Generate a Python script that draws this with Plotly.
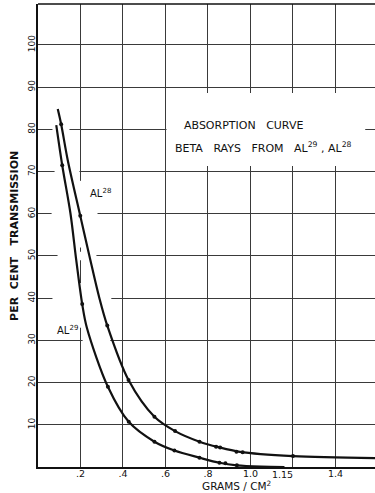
import plotly.graph_objects as go

# ---- data ----
# AL28 (upper) curve: drawn curve vertices and measured points
al28_curve_x = [0.093, 0.109, 0.14, 0.199, 0.242, 0.289, 0.326, 0.426, 0.548, 0.645, 0.76, 0.85, 0.95, 1.2, 1.586]
al28_curve_y = [84.8, 81.2, 72.7, 59.5, 50.0, 40.0, 33.5, 20.6, 11.9, 8.5, 6.0, 4.7, 3.6, 2.6, 2.1]
al28_pts_x = [0.109, 0.199, 0.326, 0.426, 0.548, 0.645, 0.76, 0.838, 0.857, 0.934, 0.963, 1.2]
al28_pts_y = [81.2, 59.5, 33.5, 20.6, 11.9, 8.5, 6.0, 4.8, 4.6, 3.6, 3.5, 2.6]

# AL29 (lower) curve
al29_curve_x = [0.086, 0.114, 0.153, 0.18, 0.208, 0.23, 0.329, 0.427, 0.548, 0.642, 0.76, 0.854, 0.936, 1.05, 1.16]
al29_curve_y = [81.0, 71.5, 60.0, 49.0, 38.6, 33.0, 19.0, 10.7, 6.0, 3.9, 2.2, 1.0, 0.4, 0.1, 0.0]
al29_pts_x = [0.114, 0.208, 0.329, 0.427, 0.548, 0.642, 0.76, 0.854, 0.882, 0.936]
al29_pts_y = [71.5, 38.6, 19.0, 10.7, 6.0, 3.9, 2.2, 1.0, 0.9, 0.4]

x_grid = [0.2, 0.4, 0.6, 0.8, 1.0, 1.2, 1.4]
x_ticktext = [".2", ".4", ".6", ".8", "1.0", "", "1.4"]
y_ticks = [10, 20, 30, 40, 50, 60, 70, 80, 90, 100]
y_ticktext = [str(v) for v in y_ticks]

FONT = "DejaVu Sans"
INK = "#111111"
GRID = "#3a3a3a"

fig = go.Figure()
for cx, cy, px, py in [(al28_curve_x, al28_curve_y, al28_pts_x, al28_pts_y),
                       (al29_curve_x, al29_curve_y, al29_pts_x, al29_pts_y)]:
    fig.add_trace(go.Scatter(x=cx, y=cy, mode="lines",
                             line=dict(color=INK, width=2.2, shape="spline", smoothing=0.9),
                             hoverinfo="skip", showlegend=False))
    fig.add_trace(go.Scatter(x=px, y=py, mode="markers",
                             marker=dict(color=INK, size=4),
                             showlegend=False))

# white boxes that reproduce the breaks in the hand-drawn grid
gaps = [
    (0.605, 1.54, 71.3, 88.6),   # title area
    (0.068, 0.148, 79, 81),
    (0.078, 0.195, 69, 71),
    (0.064, 0.28, 59, 61),
    (0.092, 0.275, 49, 51),
    (0.068, 0.345, 39, 41),
    (0.21, 0.34, 29, 31),
    (0.19, 0.21, 52, 67.8),
    (0.19, 0.21, 33, 43.6),
]
shapes = [dict(type="rect", xref="x", yref="y", x0=a, x1=b, y0=c, y1=d,
               fillcolor="white", line=dict(width=0), layer="between") for a, b, c, d in gaps]
shapes.append(dict(type="line", xref="paper", yref="paper", x0=0, x1=1, y0=1, y1=1,
                   line=dict(color=INK, width=1.5)))

ann_font = dict(family=FONT, size=11, color=INK)
annotations = [
    dict(x=0.967, y=81, xref="x", yref="y", showarrow=False,
         text="ABSORPTION\u00a0\u00a0 CURVE", font=ann_font),
    dict(x=1.06, y=75.6, xref="x", yref="y", showarrow=False,
         text="BETA\u00a0\u00a0 RAYS\u00a0\u00a0 FROM\u00a0\u00a0 AL<sup>29</sup> , AL<sup>28</sup>", font=ann_font),
    dict(x=0.294, y=65, xref="x", yref="y", showarrow=False,
         text="AL<sup>28</sup>", font=dict(family=FONT, size=10, color=INK)),
    dict(x=0.141, y=32.5, xref="x", yref="y", showarrow=False,
         text="AL<sup>29</sup>", font=dict(family=FONT, size=10, color=INK)),
    dict(x=1.15, y=-0.017, xref="x", yref="paper", showarrow=False, yanchor="middle",
         text="1.15", font=dict(family=FONT, size=9.5, color=INK)),
    dict(x=0.934, y=-0.039, xref="x", yref="paper", showarrow=False, yanchor="middle",
         text="GRAMS / CM<sup>2</sup>", font=dict(family=FONT, size=10.5, color=INK)),
    dict(x=-0.07, y=0.5, xref="paper", yref="paper", showarrow=False, textangle=-90,
         xanchor="center", yanchor="middle",
         text="PER\u00a0 CENT\u00a0\u00a0 TRANSMISSION",
         font=dict(family=FONT, size=11, color=INK, weight="bold")),
]

fig.update_layout(
    width=375, height=493,
    margin=dict(l=38, r=0, t=4, b=26),
    paper_bgcolor="white", plot_bgcolor="white",
    showlegend=False,
    font=dict(family=FONT, size=10, color=INK),
    shapes=shapes, annotations=annotations,
    xaxis=dict(range=[0, 1.586], tickmode="array", tickvals=x_grid, ticktext=x_ticktext,
               showgrid=True, gridcolor=GRID, gridwidth=1, zeroline=False,
               showline=True, linecolor=INK, linewidth=1.5, ticks="",
               ticklabelstandoff=-3,
               tickfont=dict(family=FONT, size=9.5, color=INK)),
    yaxis=dict(range=[0, 109.7], tickmode="array", tickvals=y_ticks, ticktext=y_ticktext,
               tickangle=-90, showgrid=True, gridcolor=GRID, gridwidth=1, zeroline=False,
               showline=True, linecolor=INK, linewidth=1.5, ticks="",
               ticklabelstandoff=-2,
               tickfont=dict(family=FONT, size=9, color=INK)),
)

fig.write_html("out.html")
